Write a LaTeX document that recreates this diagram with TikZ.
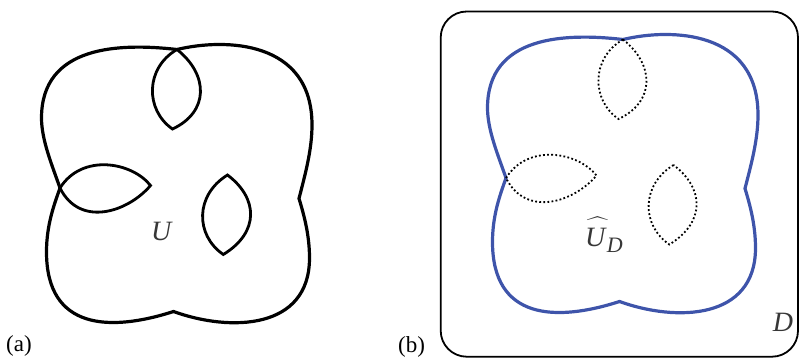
\documentclass[tikz,border=0pt]{standalone}
\usepackage{amsmath}
\usepackage{fontspec}
\setmainfont{Liberation Serif}
\definecolor{ublue}{RGB}{62,84,170}
\definecolor{labgray}{RGB}{55,55,55}
\newcommand\blobpath{(177,49.5) .. controls (120,43) and (41.5,45) .. (41.5,118)
  .. controls (41.5,140) and (52,165) .. (60,188)
  .. controls (54,205) and (46.5,225) .. (46.5,252)
  .. controls (46.5,330) and (110,332) .. (173.5,311.5)
  .. controls (230,332) and (309.5,330) .. (309.5,258)
  .. controls (309.5,235) and (304,215) .. (299,198.5)
  .. controls (305,175) and (312,150) .. (312,125)
  .. controls (312,40) and (225,38) .. cycle}
\newcommand\lenstop{(177,49.5) .. controls (145,68) and (145,110) .. (172.5,129) .. controls (209,112) and (209,75) .. cycle}
\newcommand\lensleft{(60,188) .. controls (82,153) and (132,162) .. (150.5,185.5) .. controls (128,212) and (80,228) .. cycle}
\newcommand\lensright{(227.5,175) .. controls (195,195) and (195,235) .. (223.3,254.5) .. controls (260,232) and (258,198) .. cycle}
\newcommand\bighat{{\fontsize{21}{21}\usefont{OMX}{lmex}{m}{n}\char"63}}
\tikzset{
  blob/.style={line width=3.2pt, line join=miter, miter limit=20},
  lensline/.style={line width=2.8pt, line join=miter, miter limit=20},
  dotlens/.style={line width=1.8pt, line join=miter, dash pattern=on 1.8pt off 2.3pt},
  biglab/.style={font=\fontsize{28}{32}\selectfont, text=labgray, inner sep=0pt},
  panlab/.style={font=\fontsize{23}{27}\selectfont, inner sep=0pt},
}
\begin{document}
\begin{tikzpicture}[x=1pt,y=-1pt]
\useasboundingbox (0,0) rectangle (800,361);
% panel (a)
\draw[blob] \blobpath;
\draw[lensline] \lenstop;
\draw[lensline] \lensleft;
\draw[lensline] \lensright;
\node[biglab] (U) at (162,231) {\textit{U}};
\node[panlab] (la) at (19,346) {(a)};
% panel (b)
\draw[line width=1.8pt, rounded corners=26pt] (440.7,11.5) rectangle (798,356.7);
\begin{scope}[shift={(446,-10)}]
  \draw[blob, ublue] \blobpath;
  \draw[dotlens] \lenstop;
  \draw[dotlens] \lensleft;
  \draw[dotlens] \lensright;
\end{scope}
\node[biglab, anchor=base west] (UD) at (585,246.5) {\makebox[0pt][l]{\kern2.5pt\raisebox{14pt}{\bighat}}\textit{U}\raisebox{-6pt}{\fontsize{22}{22}\selectfont\textit{D}}};
\node[biglab] (Dl) at (783,322) {\textit{D}};
\node[panlab] (lb) at (411.5,347) {(b)};
\end{tikzpicture}
\end{document}
